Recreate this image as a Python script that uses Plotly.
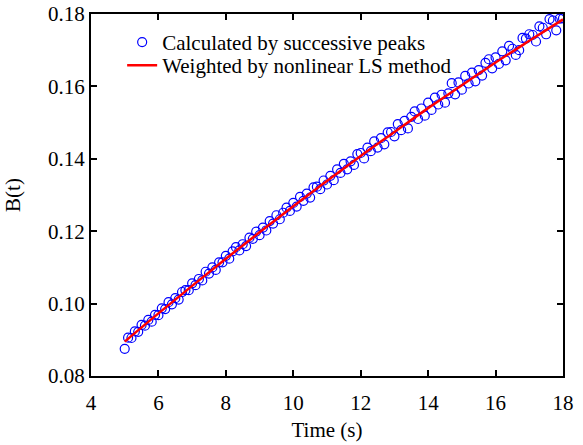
import plotly.graph_objects as go

# measured points (time in s, B(t))
t_peaks = [5.0, 5.1, 5.2, 5.3, 5.4, 5.5, 5.6, 5.7, 5.8, 5.9,
           6.0, 6.1, 6.2, 6.3, 6.4, 6.5, 6.6, 6.7, 6.8, 6.9,
           7.0, 7.1, 7.2, 7.3, 7.4, 7.5, 7.6, 7.7, 7.8, 7.9,
           8.0, 8.1, 8.2, 8.3, 8.4, 8.5, 8.6, 8.7, 8.8, 8.9,
           9.0, 9.1, 9.2, 9.3, 9.4, 9.5, 9.6, 9.7, 9.8, 9.9,
           10.0, 10.1, 10.2, 10.3, 10.4, 10.5, 10.6, 10.7, 10.8, 10.9,
           11.0, 11.1, 11.2, 11.3, 11.4, 11.5, 11.6, 11.7, 11.8, 11.9,
           12.0, 12.1, 12.2, 12.3, 12.4, 12.5, 12.6, 12.7, 12.8, 12.9,
           13.0, 13.1, 13.2, 13.3, 13.4, 13.5, 13.6, 13.7, 13.8, 13.9,
           14.0, 14.1, 14.2, 14.3, 14.4, 14.5, 14.6, 14.7, 14.8, 14.9,
           15.0, 15.1, 15.2, 15.3, 15.4, 15.5, 15.6, 15.7, 15.8, 15.9,
           16.0, 16.1, 16.2, 16.3, 16.4, 16.5, 16.6, 16.7, 16.8, 16.9,
           17.0, 17.1, 17.2, 17.3, 17.4, 17.5, 17.6, 17.7, 17.8, 17.9, 18.0]
b_peaks = [0.0875, 0.0906, 0.0905, 0.0923, 0.0922, 0.0941, 0.0939, 0.0955, 0.0950, 0.0969,
           0.0968, 0.0987, 0.0985, 0.1004, 0.0998, 0.1015, 0.1011, 0.1032, 0.1037, 0.1037,
           0.1056, 0.1051, 0.1068, 0.1064, 0.1088, 0.1083, 0.1100, 0.1093, 0.1114, 0.1114,
           0.1132, 0.1124, 0.1144, 0.1156, 0.1147, 0.1164, 0.1159, 0.1182, 0.1179, 0.1199,
           0.1189, 0.1210, 0.1202, 0.1228, 0.1221, 0.1244, 0.1233, 0.1251, 0.1265, 0.1256,
           0.1278, 0.1268, 0.1295, 0.1284, 0.1304, 0.1293, 0.1321, 0.1323, 0.1316, 0.1340,
           0.1329, 0.1353, 0.1341, 0.1371, 0.1361, 0.1386, 0.1371, 0.1393, 0.1383, 0.1413,
           0.1416, 0.1401, 0.1431, 0.1421, 0.1448, 0.1431, 0.1457, 0.1440, 0.1473, 0.1474,
           0.1462, 0.1496, 0.1479, 0.1505, 0.1484, 0.1516, 0.1531, 0.1510, 0.1539, 0.1519,
           0.1555, 0.1535, 0.1569, 0.1550, 0.1577, 0.1555, 0.1581, 0.1609, 0.1578, 0.1611,
           0.1591, 0.1629, 0.1608, 0.1638, 0.1614, 0.1645, 0.1630, 0.1665, 0.1675, 0.1650,
           0.1680, 0.1662, 0.1697, 0.1672, 0.1712, 0.1704, 0.1687, 0.1700, 0.1734, 0.1732,
           0.1744, 0.1742, 0.1724, 0.1766, 0.1762, 0.1744, 0.1786, 0.1782, 0.1755, 0.1787, 0.1788]

# fitted curve (nonlinear LS)
t_fit = [5, 6, 7, 8, 9, 10, 11, 12, 13, 14, 15, 16, 17, 18]
b_fit = [0.0895, 0.0973, 0.1049, 0.1124, 0.1197, 0.1269, 0.1339,
         0.1408, 0.1474, 0.1540, 0.1603, 0.1666, 0.1726, 0.1785]

x_ticks = [4, 6, 8, 10, 12, 14, 16, 18]
y_ticks = [0.08, 0.10, 0.12, 0.14, 0.16, 0.18]

font = "Liberation Serif"
txt = dict(family=font, size=21, color="black")

fig = go.Figure()
fig.add_trace(go.Scatter(
    x=t_peaks, y=b_peaks, mode="markers",
    name="Calculated by successive peaks", legend="legend",
    marker=dict(symbol="circle-open", size=9, color="#0000ff", line=dict(width=1.2)),
))
fig.add_trace(go.Scatter(
    x=t_fit, y=b_fit, mode="lines", line_shape="spline",
    name="Weighted by nonlinear LS method", legend="legend2",
    line=dict(color="#ff0000", width=2.5),
))

axis_style = dict(
    showline=True, linecolor="black", linewidth=2, mirror="ticks",
    ticks="inside", ticklen=6, tickwidth=2, tickcolor="black",
    showgrid=False, zeroline=False, automargin=False,
    tickfont=txt,
)

fig.update_xaxes(range=[4, 18], tickvals=x_ticks, ticklabelstandoff=7,
                 title=dict(text="Time (s)", font=txt, standoff=8),
                 **axis_style)
fig.update_yaxes(range=[0.08, 0.18], tickvals=y_ticks, tickformat=".2f",
                 title=dict(text="B(t)", font=txt, standoff=22),
                 **axis_style)

leg = dict(x=0.066, xanchor="left", yanchor="top",
           bgcolor="rgba(0,0,0,0)", font=txt)
fig.update_layout(
    width=583, height=445,
    margin=dict(l=91, r=20, t=14, b=69),
    plot_bgcolor="white", paper_bgcolor="white",
    font=txt,
    legend=dict(y=0.978, **leg),
    legend2=dict(y=0.914, **leg),
    showlegend=True,
)

# drop the default page margin so the figure sits at the window corner
fig.write_html("out.html", config={"displayModeBar": False},
               post_script="document.body.style.margin='0';")
